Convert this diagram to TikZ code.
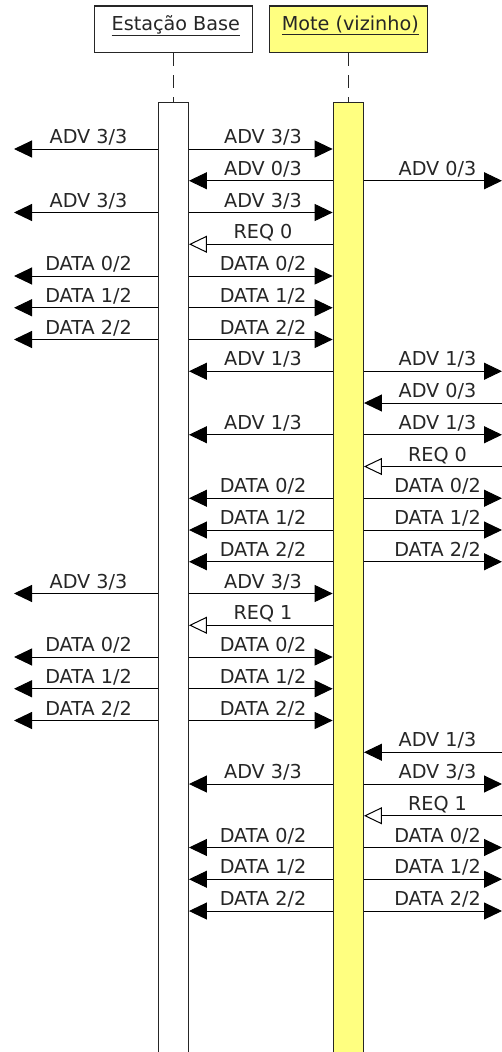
\documentclass[tikz,border=0pt]{standalone}
\usepackage{fontspec}
\setmainfont{DejaVu Sans}
\usetikzlibrary{arrows.meta}

\newcommand{\msgfont}{\fontsize{19.2}{23}\selectfont}

\tikzset{
  headbox/.style={draw=black!85, line width=1.3pt, minimum width=158pt,
    minimum height=46.7pt, inner sep=0pt, text height=15pt, text depth=13.6pt,
    font=\msgfont, text=black!85},
  bar/.style={draw=black!85, line width=1.3pt, minimum width=30pt,
    minimum height=980pt, inner sep=0pt, anchor=north},
  lifeline/.style={draw=black!85, line width=1.3pt, dash pattern=on 13pt off 9pt},
  msg/.style={draw=black, line width=1pt, -{Triangle[length=18pt,width=17pt]}},
  reply/.style={draw=black, line width=1pt, -{Triangle[open,length=18pt,width=17pt,line width=1pt]}},
  lbl/.style={anchor=base, font=\msgfont, text=black!85, inner sep=0pt}
}

% row n sits at y = 149 + (n-1)*31.75
\newcommand{\rowy}[1]{149+(#1-1)*31.75}

\begin{document}
\begin{tikzpicture}[x=1pt, y=-1pt]
  \clip (0,0) rectangle (502,1052);
  \fill[white] (0,0) rectangle (502,1052);

  % participants
  \node[headbox, fill=white] (bs) at (173.3,29.3) {\hspace*{5pt}\underline{Estação Base}};
  \node[headbox, fill={rgb,255:red,255;green,255;blue,128}] (mote) at (348.3,29.3) {\hspace*{4pt}\underline{Mote (vizinho)}};

  % activation bars (run past the bottom edge)
  \node[bar, fill=white] (bsbar) at (173.3,101.7) {};
  \node[bar, fill={rgb,255:red,255;green,255;blue,128}] (motebar) at (348.3,101.7) {};

  \draw[lifeline] (bs.south) -- (bsbar.north);
  \draw[lifeline] (mote.south) -- (motebar.north);

  % off-picture ends of the broadcast arrows
  \coordinate (farleft) at (14,0);
  \coordinate (farright) at (502,0);

  % left broadcast from the base station:  bs -> farleft
  \foreach \n/\t in {1/ADV 3\slash 3, 3/ADV 3\slash 3, 5/DATA 0\slash 2, 6/DATA 1\slash 2,
                     7/DATA 2\slash 2, 15/ADV 3\slash 3, 17/DATA 0\slash 2,
                     18/DATA 1\slash 2, 19/DATA 2\slash 2} {
    \draw[msg] (bsbar.west |- 0,{\rowy{\n}}) -- (farleft |- 0,{\rowy{\n}});
    \node[lbl] at (88.5,{\rowy{\n}-5.5}) {\t};
  }

  % base station -> mote
  \foreach \n/\t in {1/ADV 3\slash 3, 3/ADV 3\slash 3, 5/DATA 0\slash 2, 6/DATA 1\slash 2,
                     7/DATA 2\slash 2, 15/ADV 3\slash 3, 17/DATA 0\slash 2,
                     18/DATA 1\slash 2, 19/DATA 2\slash 2} {
    \draw[msg] (bsbar.east |- 0,{\rowy{\n}}) -- (motebar.west |- 0,{\rowy{\n}});
    \node[lbl] at (263,{\rowy{\n}-5.5}) {\t};
  }

  % mote -> base station
  \foreach \n/\t in {2/ADV 0\slash 3, 8/ADV 1\slash 3, 10/ADV 1\slash 3,
                     12/DATA 0\slash 2, 13/DATA 1\slash 2, 14/DATA 2\slash 2,
                     21/ADV 3\slash 3, 23/DATA 0\slash 2, 24/DATA 1\slash 2,
                     25/DATA 2\slash 2} {
    \draw[msg] (motebar.west |- 0,{\rowy{\n}}) -- (bsbar.east |- 0,{\rowy{\n}});
    \node[lbl] at (263,{\rowy{\n}-5.5}) {\t};
  }

  % requests mote -> base station
  \foreach \n/\t in {4/REQ 0, 16/REQ 1} {
    \draw[reply] (motebar.west |- 0,{\rowy{\n}}) -- (bsbar.east |- 0,{\rowy{\n}});
    \node[lbl] at (263,{\rowy{\n}-5.5}) {\t};
  }

  % mote -> farright
  \foreach \n/\t in {2/ADV 0\slash 3, 8/ADV 1\slash 3, 10/ADV 1\slash 3,
                     12/DATA 0\slash 2, 13/DATA 1\slash 2, 14/DATA 2\slash 2,
                     21/ADV 3\slash 3, 23/DATA 0\slash 2, 24/DATA 1\slash 2,
                     25/DATA 2\slash 2} {
    \draw[msg] (motebar.east |- 0,{\rowy{\n}}) -- (farright |- 0,{\rowy{\n}});
    \node[lbl] at (437.5,{\rowy{\n}-5.5}) {\t};
  }

  % farright -> mote
  \foreach \n/\t in {9/ADV 0\slash 3, 20/ADV 1\slash 3} {
    \draw[msg] (farright |- 0,{\rowy{\n}}) -- (motebar.east |- 0,{\rowy{\n}});
    \node[lbl] at (437.5,{\rowy{\n}-5.5}) {\t};
  }
  \foreach \n/\t in {11/REQ 0, 22/REQ 1} {
    \draw[reply] (farright |- 0,{\rowy{\n}}) -- (motebar.east |- 0,{\rowy{\n}});
    \node[lbl] at (437.5,{\rowy{\n}-5.5}) {\t};
  }
\end{tikzpicture}
\end{document}
